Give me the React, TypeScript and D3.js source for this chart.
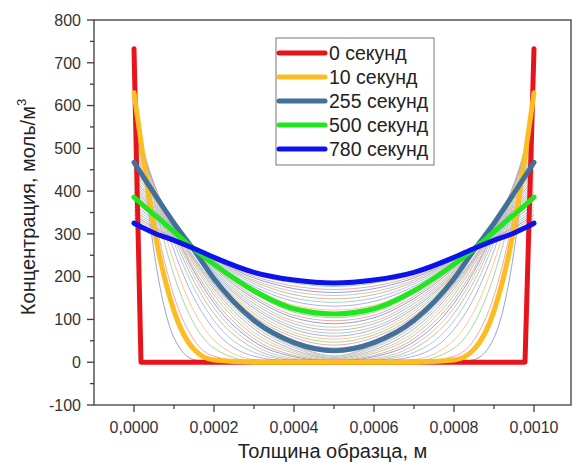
import * as React from 'react';
import * as d3 from 'd3';

// x positions (m) shared by the computed profiles
const xGrid = [0, 0.000025, 0.00005, 0.0001, 0.00015, 0.0002, 0.0003, 0.0004, 0.0005,
  0.0006, 0.0007, 0.0008, 0.00085, 0.0009, 0.00095, 0.000975, 0.001];

// t = 0 s (initial step profile)
const redX = [0, 0.0000175, 0.0009775, 0.001];
const redY = [733, 0, 0, 733];

const conc10 = [630, 466, 315, 120, 30, 5, 0, 0, 0, 0, 0, 5, 30, 120, 315, 466, 630];
const conc255 = [467, 431, 395, 325, 262, 195, 98, 46, 27, 46, 98, 195, 262, 325, 395, 431, 467];
const conc500 = [386, 365, 345, 305, 265, 229, 167, 125, 113, 125, 167, 229, 265, 305, 345, 365, 386];
const conc780 = [325, 313, 302, 285, 266, 245, 210, 192, 185, 192, 210, 245, 266, 285, 302, 313, 325];

// intermediate time steps (thin lines)
const thinProfiles = [
  [665, 443, 259, 57, 6, 0, 0, 0, 0, 0, 0, 0, 6, 57, 259, 443, 665],
  [617, 478, 349, 155, 52, 14, 0, 0, 0, 0, 0, 14, 52, 155, 349, 478, 617],
  [603, 488, 380, 203, 90, 33, 2, 0, 0, 0, 2, 33, 90, 203, 380, 488, 603],
  [592, 492, 397, 234, 119, 52, 6, 0, 0, 0, 6, 52, 119, 234, 397, 492, 592],
  [578, 492, 409, 261, 150, 77, 14, 2, 0, 2, 14, 77, 150, 261, 409, 492, 578],
  [566, 489, 414, 280, 173, 97, 23, 4, 0, 4, 23, 97, 173, 280, 414, 489, 566],
  [555, 485, 417, 292, 189, 114, 32, 6, 1, 6, 32, 114, 189, 292, 417, 485, 555],
  [545, 481, 417, 300, 202, 127, 40, 9, 2, 9, 40, 127, 202, 300, 417, 481, 545],
  [536, 476, 416, 307, 212, 138, 48, 13, 3, 13, 48, 138, 212, 307, 416, 476, 536],
  [527, 470, 414, 310, 219, 147, 55, 16, 4, 16, 55, 147, 219, 310, 414, 470, 527],
  [516, 463, 411, 313, 228, 157, 63, 21, 5, 21, 63, 157, 228, 313, 411, 463, 516],
  [506, 456, 408, 316, 233, 165, 70, 25, 7, 25, 70, 165, 233, 316, 408, 456, 506],
  [496, 449, 404, 316, 238, 172, 78, 29, 9, 29, 78, 172, 238, 316, 404, 449, 496],
  [487, 443, 400, 317, 242, 178, 85, 34, 11, 34, 85, 178, 242, 317, 400, 443, 487],
  [479, 437, 396, 317, 244, 182, 90, 38, 14, 38, 90, 182, 244, 317, 396, 437, 479],
  [473, 432, 393, 316, 246, 185, 94, 41, 15, 41, 94, 185, 246, 316, 393, 432, 473],
  [459, 424, 390, 322, 261, 197, 102, 51, 33, 51, 102, 197, 261, 322, 390, 424, 459],
  [451, 418, 384, 320, 261, 199, 108, 58, 40, 58, 108, 199, 261, 320, 384, 418, 451],
  [444, 412, 380, 318, 261, 202, 114, 64, 47, 64, 114, 202, 261, 318, 380, 412, 444],
  [436, 405, 375, 316, 261, 205, 120, 70, 54, 70, 120, 205, 261, 316, 375, 405, 436],
  [429, 400, 371, 314, 261, 207, 126, 77, 61, 77, 126, 207, 261, 314, 371, 400, 429],
  [422, 394, 366, 312, 261, 210, 131, 83, 68, 83, 131, 210, 261, 312, 366, 394, 422],
  [416, 389, 363, 311, 262, 213, 137, 90, 75, 90, 137, 213, 262, 311, 363, 389, 416],
  [410, 384, 359, 310, 262, 216, 143, 96, 82, 96, 143, 216, 262, 310, 359, 384, 410],
  [404, 380, 356, 309, 263, 220, 149, 104, 90, 104, 149, 220, 263, 309, 356, 380, 404],
  [398, 375, 352, 307, 263, 223, 154, 110, 97, 110, 154, 223, 263, 307, 352, 375, 398],
  [392, 370, 349, 306, 264, 225, 160, 117, 104, 117, 160, 225, 264, 306, 349, 370, 392],
  [377, 357, 338, 301, 264, 230, 172, 133, 122, 133, 172, 230, 264, 301, 338, 357, 377],
  [370, 351, 333, 299, 265, 233, 177, 142, 131, 142, 177, 233, 265, 299, 333, 351, 370],
  [363, 345, 329, 297, 265, 235, 183, 150, 140, 150, 183, 235, 265, 297, 329, 345, 363],
  [356, 339, 324, 295, 265, 237, 188, 158, 148, 158, 188, 237, 265, 295, 324, 339, 356],
  [350, 334, 319, 293, 266, 239, 192, 165, 156, 165, 192, 239, 266, 293, 319, 334, 350],
  [344, 329, 315, 291, 265, 240, 197, 172, 163, 172, 197, 240, 265, 291, 315, 329, 344],
  [338, 324, 311, 289, 265, 242, 201, 178, 170, 178, 201, 242, 265, 289, 311, 324, 338],
  [332, 319, 307, 286, 265, 243, 205, 185, 177, 185, 205, 243, 265, 286, 307, 319, 332],
  [329, 316, 305, 286, 265, 244, 208, 188, 181, 188, 208, 244, 265, 286, 305, 316, 329],
];
const thinColors = ['#8e9fca', '#f2a3a3', '#9fd69f', '#f5c78a', '#b9a7df', '#98d0df', '#d8b48e', '#c4c4c4'];

const legendLabels = ['0 секунд', '10 секунд', '255 секунд', '500 секунд', '780 секунд'];
const legendColors = ['#e8141c', '#fbbd22', '#41709b', '#1fe61f', '#0c12ee'];

const yTicks = [-100, 0, 100, 200, 300, 400, 500, 600, 700, 800];
const yMinor = [-50, 50, 150, 250, 350, 450, 550, 650, 750];
const xTicks = [0, 0.0002, 0.0004, 0.0006, 0.0008, 0.001];
const xMinor = [0.0001, 0.0003, 0.0005, 0.0007, 0.0009];

const FONT = 'Liberation Sans, Arial, sans-serif';
const AXIS = '#3c3c3c';

export default function App() {
  const width = 573;
  const height = 463;
  const left = 94, right = 571, top = 20, bottom = 405;

  const x = d3.scaleLinear().domain([-0.0001, 0.0010925]).range([left, right]);
  const y = d3.scaleLinear().domain([-100, 800]).range([bottom, top]);

  const smooth = d3.line<number>()
    .x((d, i) => x(xGrid[i]))
    .y(d => y(d))
    .curve(d3.curveMonotoneX);
  const straight = d3.line<number>()
    .x((d, i) => x(redX[i]))
    .y(d => y(d));

  const fmt = (v: number) => d3.format('.4f')(v).replace('.', ',');
  const highlighted = [conc10, conc255, conc500, conc780];

  return (
    <svg width={width} height={height} style={{position: 'absolute', left: 0, top: 0, background: '#fff'}}
      fontFamily={FONT}>
      <defs>
        <clipPath id="plot">
          <rect x={left} y={top} width={right - left} height={bottom - top} />
        </clipPath>
      </defs>

      <g clipPath="url(#plot)">
        {thinProfiles.map((p, i) => (
          <path key={i} d={smooth(p) || ''} fill="none"
            stroke={thinColors[i % thinColors.length]} strokeWidth={1} strokeOpacity={0.95} />
        ))}
        <path d={straight(redY) || ''} fill="none" stroke={legendColors[0]} strokeWidth={5}
          strokeLinejoin="round" strokeLinecap="round" />
        {highlighted.map((p, i) => (
          <path key={i} d={smooth(p) || ''} fill="none" stroke={legendColors[i + 1]}
            strokeWidth={5} strokeLinecap="round" />
        ))}
      </g>

      {/* frame */}
      <rect x={left} y={top} width={right - left} height={bottom - top} fill="none" stroke={AXIS} strokeWidth={1.3} />

      {/* y axis */}
      {yTicks.map(t => (
        <g key={t}>
          <line x1={left - 7} x2={left} y1={y(t)} y2={y(t)} stroke={AXIS} strokeWidth={1.3} />
          <text x={left - 13} y={y(t)} dy="0.36em" textAnchor="end" fontSize={16} fill="#333">{t}</text>
        </g>
      ))}
      {yMinor.map(t => (
        <line key={t} x1={left - 4} x2={left} y1={y(t)} y2={y(t)} stroke={AXIS} strokeWidth={1.3} />
      ))}

      {/* x axis */}
      {xTicks.map(t => (
        <g key={t}>
          <line x1={x(t)} x2={x(t)} y1={bottom} y2={bottom + 7} stroke={AXIS} strokeWidth={1.3} />
          <text x={x(t)} y={bottom + 28} textAnchor="middle" fontSize={16} fill="#333">{fmt(t)}</text>
        </g>
      ))}
      {xMinor.map(t => (
        <line key={t} x1={x(t)} x2={x(t)} y1={bottom} y2={bottom + 4} stroke={AXIS} strokeWidth={1.3} />
      ))}

      <text x={(left + right) / 2} y={458} textAnchor="middle" fontSize={20} fill="#222">Толщина образца, м</text>
      <text transform={`translate(35,207) rotate(-90)`} textAnchor="middle" fontSize={20} fill="#222">
        Концентрация, моль/м<tspan dy={-9} fontSize={13}>3</tspan>
      </text>

      {/* legend */}
      <rect x={276} y={38} width={158} height={127} fill="#fff" stroke="#777" strokeWidth={1} />
      {legendLabels.map((label, i) => (
        <g key={label}>
          <line x1={279} x2={325} y1={53 + i * 24} y2={53 + i * 24} stroke={legendColors[i]} strokeWidth={5} strokeLinecap="round" />
          <text x={329} y={53 + i * 24} dy="0.36em" fontSize={19.5} fill="#222">{label}</text>
        </g>
      ))}
    </svg>
  );
}
